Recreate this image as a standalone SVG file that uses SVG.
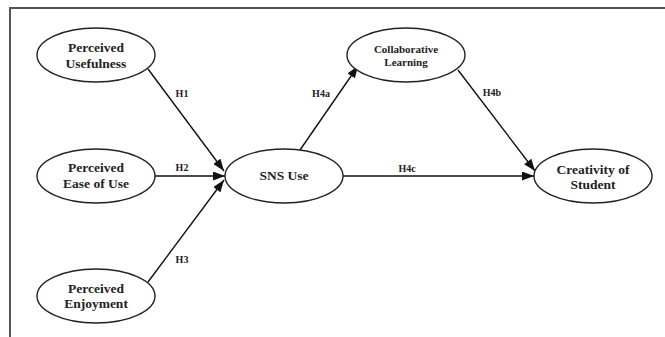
<svg xmlns="http://www.w3.org/2000/svg" width="665" height="337" viewBox="0 0 665 337">
<defs>
<style>
.node ellipse{fill:#fff;stroke:#222;stroke-width:1.4}
.node text{font-family:"Liberation Serif","Times New Roman",serif;font-weight:bold;fill:#222;text-anchor:middle}
.t13{font-size:13.5px}
.t11{font-size:11px}
.t14{font-size:13.5px}
.edge line{stroke:#111;stroke-width:1.4;marker-end:url(#ah)}
.lbl{font-family:"Liberation Serif","Times New Roman",serif;font-weight:bold;font-size:10px;fill:#222;text-anchor:middle}
.frame{stroke:#555;stroke-width:2;fill:none}
</style>
<marker id="ah" markerUnits="userSpaceOnUse" markerWidth="13" markerHeight="9" refX="12" refY="4.5" orient="auto">
<path d="M0,0 L12,4.5 L0,9 z" fill="#111"/>
</marker>
</defs>
<rect width="665" height="337" fill="#fff"/>
<path class="frame" d="M10,337 L10,8 L665,8"/>
<g id="connectors" class="edge">
<line x1="148" y1="69" x2="224" y2="171"/>
<line x1="155" y1="176" x2="225" y2="176"/>
<line x1="148" y1="282" x2="224" y2="180"/>
<line x1="300" y1="150" x2="358" y2="66"/>
<line x1="458" y1="70" x2="535" y2="171"/>
<line x1="343" y1="176" x2="534" y2="176"/>
<text class="lbl" x="182" y="97">H1</text>
<text class="lbl" x="182" y="171">H2</text>
<text class="lbl" x="182" y="263">H3</text>
<text class="lbl" x="321" y="97">H4a</text>
<text class="lbl" x="492" y="96">H4b</text>
<text class="lbl" x="407" y="172">H4c</text>
</g>
<g id="pu" class="node">
<ellipse cx="96" cy="55" rx="59" ry="27"/>
<text class="t13" x="96" y="52">Perceived</text>
<text class="t13" x="96" y="68">Usefulness</text>
</g>
<g id="peu" class="node">
<ellipse cx="96" cy="176" rx="59" ry="27"/>
<text class="t13" x="96" y="172">Perceived</text>
<text class="t13" x="96" y="188">Ease of Use</text>
</g>
<g id="pe" class="node">
<ellipse cx="96" cy="296" rx="59" ry="27"/>
<text class="t13" x="96" y="293">Perceived</text>
<text class="t13" x="96" y="308">Enjoyment</text>
</g>
<g id="sns" class="node">
<ellipse cx="284" cy="176" rx="59" ry="27"/>
<text class="t14" x="284" y="180">SNS Use</text>
</g>
<g id="cl" class="node">
<ellipse cx="406" cy="55" rx="59" ry="27"/>
<text class="t11" x="406" y="53">Collaborative</text>
<text class="t11" x="406" y="66">Learning</text>
</g>
<g id="cs" class="node">
<ellipse cx="593" cy="176" rx="59" ry="27"/>
<text class="t13" x="593" y="174">Creativity of</text>
<text class="t13" x="593" y="189">Student</text>
</g>
</svg>
